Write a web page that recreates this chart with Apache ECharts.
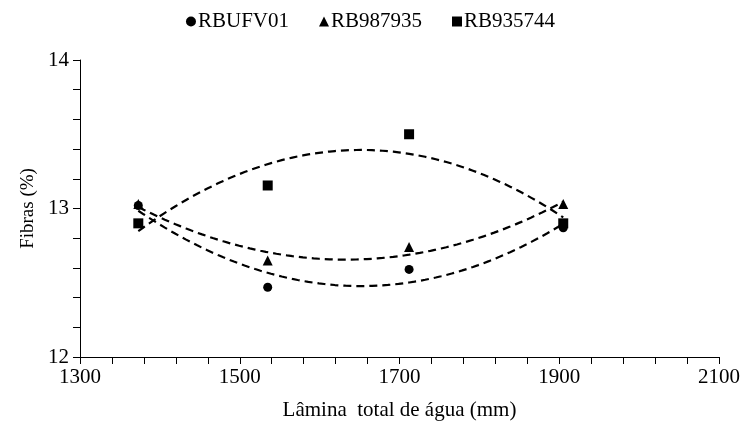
<!DOCTYPE html>
<html>
<head>
<meta charset="utf-8">
<script src="https://cdn.jsdelivr.net/npm/echarts@6/dist/echarts.min.js"></script>
<style>html,body{margin:0;padding:0;background:#fff;}#c{width:741px;height:423px;}</style>
</head>
<body>
<div id="c"></div>
<script>
// Data
const seriesNames = ['RBUFV01', 'RB987935', 'RB935744'];
const xLamina = [1373, 1535, 1712, 1905];
const rbufv01 = [13.02, 12.47, 12.59, 12.87];
const rb987935 = [13.03, 12.65, 12.74, 13.03];
const rb935744 = [12.90, 13.155, 13.50, 12.90];
const xTicks = [1300, 1500, 1700, 1900, 2100];
const yTicks = [12, 13, 14];

// quadratic least-squares trend line (like a spreadsheet polynomial trendline)
function quadFit(xs, ys) {
  const n = xs.length;
  const xm = xs.reduce((a, b) => a + b, 0) / n;
  const u = xs.map(x => (x - xm) / 100);
  let S = [0, 0, 0, 0, 0], T = [0, 0, 0];
  for (let i = 0; i < n; i++) {
    for (let k = 0; k < 5; k++) S[k] += Math.pow(u[i], k);
    for (let k = 0; k < 3; k++) T[k] += ys[i] * Math.pow(u[i], k);
  }
  const A = [[S[0], S[1], S[2], T[0]], [S[1], S[2], S[3], T[1]], [S[2], S[3], S[4], T[2]]];
  for (let i = 0; i < 3; i++) {
    let p = i;
    for (let r = i + 1; r < 3; r++) if (Math.abs(A[r][i]) > Math.abs(A[p][i])) p = r;
    [A[i], A[p]] = [A[p], A[i]];
    for (let r = 0; r < 3; r++) {
      if (r === i) continue;
      const f = A[r][i] / A[i][i];
      for (let c = i; c < 4; c++) A[r][c] -= f * A[i][c];
    }
  }
  const c = [A[0][3] / A[0][0], A[1][3] / A[1][1], A[2][3] / A[2][2]];
  return x => { const t = (x - xm) / 100; return c[0] + c[1] * t + c[2] * t * t; };
}
function trend(ys) {
  const f = quadFit(xLamina, ys);
  const x0 = xLamina[0], x1 = xLamina[xLamina.length - 1];
  const pts = [];
  for (let i = 0; i <= 80; i++) { const x = x0 + (x1 - x0) * i / 80; pts.push([x, f(x)]); }
  return pts;
}
const pair = ys => xLamina.map((x, i) => [x, ys[i]]);

const FONT = 'Liberation Serif';
const txt = { fontFamily: FONT, fontSize: 21, color: '#000' };
const dashStyle = { color: '#000', width: 2.2, type: [8, 5] };

const chart = echarts.init(document.getElementById('c'), null, { renderer: 'canvas' });
chart.setOption({
  animation: false,
  backgroundColor: '#fff',
  textStyle: { fontFamily: FONT },
  legend: {
    top: 6, left: 'center', itemGap: 30, itemWidth: 10, itemHeight: 10,
    data: [
      { name: seriesNames[0], icon: 'circle' },
      { name: seriesNames[1], icon: 'triangle' },
      { name: seriesNames[2], icon: 'rect' }
    ],
    textStyle: { fontFamily: FONT, fontSize: 21, color: '#000', padding: [0, 0, 0, -3] }
  },
  grid: { left: 80, right: 22, top: 60, bottom: 66, containLabel: false, outerBoundsMode: 'none' },
  xAxis: {
    type: 'value', min: 1300, max: 2100, interval: 200,
    name: 'Lâmina  total de água (mm)', nameLocation: 'middle', nameGap: 43,
    nameTextStyle: txt,
    axisLine: { show: true, lineStyle: { color: '#000', width: 1 } },
    axisTick: { show: true, inside: false, length: 7, lineStyle: { color: '#000' } },
    minorTick: { show: true, splitNumber: 5, length: 7, lineStyle: { color: '#000' } },
    axisLabel: Object.assign({ margin: 10, formatter: v => String(v) }, txt),
    splitLine: { show: false }
  },
  yAxis: {
    type: 'value', min: 12, max: 14, interval: 1,
    name: 'Fibras (%)', nameLocation: 'middle', nameGap: 42,
    nameTextStyle: Object.assign({}, txt, { fontSize: 19 }),
    axisLine: { show: true, lineStyle: { color: '#000', width: 1 } },
    axisTick: { show: true, inside: false, length: 7, lineStyle: { color: '#000' } },
    minorTick: { show: true, splitNumber: 5, length: 7, lineStyle: { color: '#000' } },
    axisLabel: Object.assign({ margin: 11, formatter: v => String(v) }, txt),
    splitLine: { show: false }
  },
  series: [
    { name: 'trend1', type: 'line', data: trend(rbufv01), showSymbol: false, symbol: 'none', lineStyle: dashStyle, z: 1, silent: true },
    { name: 'trend2', type: 'line', data: trend(rb987935), showSymbol: false, symbol: 'none', lineStyle: dashStyle, z: 1, silent: true },
    { name: 'trend3', type: 'line', data: trend(rb935744), showSymbol: false, symbol: 'none', lineStyle: dashStyle, z: 1, silent: true },
    { name: seriesNames[0], type: 'scatter', data: pair(rbufv01), symbol: 'circle', symbolSize: 9, itemStyle: { color: '#000', opacity: 1 }, z: 3 },
    { name: seriesNames[1], type: 'scatter', data: pair(rb987935), symbol: 'triangle', symbolSize: 10, itemStyle: { color: '#000', opacity: 1 }, z: 3 },
    { name: seriesNames[2], type: 'scatter', data: pair(rb935744), symbol: 'rect', symbolSize: 10, itemStyle: { color: '#000', opacity: 1 }, z: 3 }
  ]
});
</script>
</body>
</html>
